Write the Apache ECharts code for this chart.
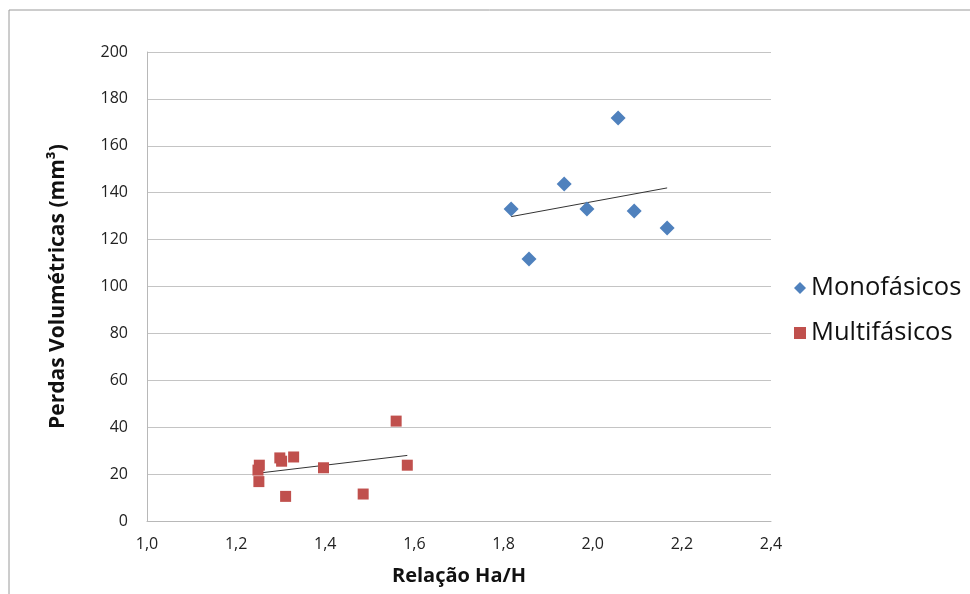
<!DOCTYPE html>
<html>
<head>
<meta charset="utf-8">
<script src="https://cdn.jsdelivr.net/npm/echarts@6/dist/echarts.min.js"></script>
<style>
  html, body { margin: 0; padding: 0; background: #fff; }
  #chart { width: 970px; height: 594px; }
</style>
</head>
<body>
<div id="chart"></div>
<script>
var monoX = [1.817, 1.857, 1.936, 1.987, 2.057, 2.093, 2.167];
var monoY = [133.0, 111.7, 143.7, 133.0, 171.9, 132.2, 124.9];
var multiX = [1.252, 1.249, 1.251, 1.298, 1.302, 1.329, 1.311, 1.396, 1.485, 1.559, 1.584];
var multiY = [23.8, 21.7, 16.8, 26.9, 25.5, 27.3, 10.5, 22.7, 11.5, 42.6, 23.8];
var seriesNames = ['Monofásicos', 'Multifásicos'];

function pairs(xs, ys) {
    return xs.map(function (x, i) { return [x, ys[i]]; });
}

// linear trend line (least squares), drawn from min x to max x
function trend(xs, ys) {
    var n = xs.length, mx = 0, my = 0, sxy = 0, sxx = 0;
    for (var i = 0; i < n; i++) { mx += xs[i]; my += ys[i]; }
    mx /= n; my /= n;
    for (var j = 0; j < n; j++) {
        sxy += (xs[j] - mx) * (ys[j] - my);
        sxx += (xs[j] - mx) * (xs[j] - mx);
    }
    var b = sxy / sxx, a = my - b * mx;
    var x0 = Math.min.apply(null, xs), x1 = Math.max.apply(null, xs);
    return [[x0, a + b * x0], [x1, a + b * x1]];
}

var font = '"Open Sans", Lato, sans-serif';
var chart = echarts.init(document.getElementById('chart'));
chart.setOption({
    animation: false,
    textStyle: { fontFamily: font },
    graphic: [
        { type: 'line', shape: { x1: 9, y1: 10, x2: 970, y2: 10 }, style: { stroke: '#9a9a9a', lineWidth: 1 } },
        { type: 'line', shape: { x1: 9, y1: 10, x2: 9, y2: 594 }, style: { stroke: '#9a9a9a', lineWidth: 1 } }
    ],
    grid: { left: 147, right: 199, top: 52, bottom: 73 },
    legend: {
        orient: 'vertical',
        left: 789,
        top: 270,
        itemGap: 19,
        itemWidth: 12,
        itemHeight: 12,
        data: [
            { name: seriesNames[0], icon: 'diamond' },
            { name: seriesNames[1], icon: 'rect' }
        ],
        textStyle: { fontSize: 25.5, color: '#111', fontFamily: font }
    },
    xAxis: {
        type: 'value',
        min: 1.0,
        max: 2.4,
        interval: 0.2,
        name: 'Relação Ha/H',
        nameLocation: 'middle',
        nameGap: 45,
        nameTextStyle: { fontSize: 20, fontWeight: 'bold', color: '#111', fontFamily: font },
        axisLine: { show: true, lineStyle: { color: '#b8b8b8' } },
        axisTick: { show: false },
        splitLine: { show: false },
        axisLabel: {
            fontSize: 16, color: '#222', margin: 15,
            formatter: function (v) { return v.toFixed(1).replace('.', ','); }
        }
    },
    yAxis: {
        type: 'value',
        min: 0,
        max: 200,
        interval: 20,
        name: 'Perdas Volumétricas (mm³)',
        nameLocation: 'middle',
        nameGap: 78,
        nameTextStyle: { fontSize: 21, fontWeight: 'bold', color: '#111', fontFamily: font },
        axisLine: { show: true, lineStyle: { color: '#b8b8b8' } },
        axisTick: { show: false },
        splitLine: { lineStyle: { color: '#c4c4c4' } },
        axisLabel: { fontSize: 16, color: '#222', margin: 19 }
    },
    series: [
        {
            name: seriesNames[0],
            type: 'scatter',
            symbol: 'diamond',
            symbolSize: 15,
            itemStyle: { color: '#4F81BD', opacity: 1 },
            data: pairs(monoX, monoY),
            z: 3
        },
        {
            name: seriesNames[1],
            type: 'scatter',
            symbol: 'rect',
            symbolSize: 11,
            itemStyle: { color: '#C0504D', opacity: 1 },
            data: pairs(multiX, multiY),
            z: 3
        },
        {
            type: 'line',
            symbol: 'none',
            lineStyle: { color: '#333', width: 1 },
            data: trend(monoX, monoY),
            z: 2
        },
        {
            type: 'line',
            symbol: 'none',
            lineStyle: { color: '#333', width: 1 },
            data: trend(multiX, multiY),
            z: 2
        }
    ]
});
</script>
</body>
</html>
